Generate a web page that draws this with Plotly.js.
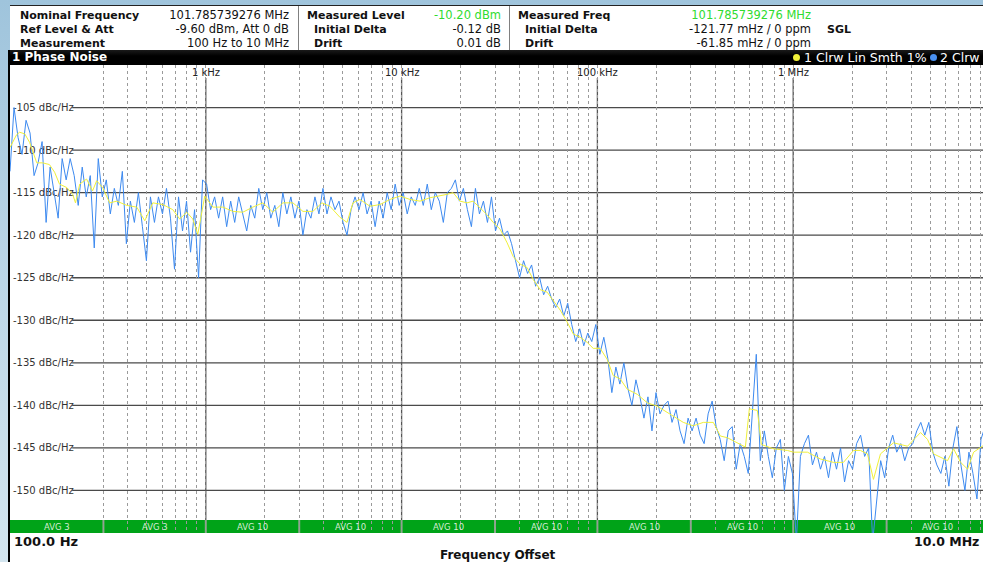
<!DOCTYPE html>
<html>
<head>
<meta charset="utf-8">
<script src="https://cdn.plot.ly/plotly-3.0.1.min.js"></script>
<style>
html,body{margin:0;padding:0;width:983px;height:562px;overflow:hidden;}
body{position:relative;background:linear-gradient(180deg,#9fc4dc 0%,#bcd6e6 50%,#d3e5ef 100%);font-family:'DejaVu Sans',sans-serif;}
.abs{position:absolute;}
#header{left:10px;top:5px;width:973px;height:45px;background:#fff;border-top:1px solid #222;}
.sep{top:6px;width:1px;height:44px;background:#808080;}
.t{position:absolute;white-space:nowrap;font-size:11.5px;line-height:13px;color:#111;}
.b{font-weight:bold;font-size:11px;}
.g{color:#2fdc2f;}
#titlebar{left:9px;top:50px;width:974px;height:15px;background:linear-gradient(180deg,#1a1a1a,#000 40%,#000);}
#leftline{left:8px;top:50px;width:2px;height:512px;background:#000;}
#bottom{left:10px;top:533px;width:973px;height:29px;background:#fff;}
#plot{left:0;top:0;width:1000px;height:562px;}
.w{color:#fff;}
.dot{position:absolute;width:7px;height:7px;border-radius:50%;top:54px;}
</style>
</head>
<body>
<div id="header" class="abs"></div>
<div class="abs sep" style="left:298px"></div>
<div class="abs sep" style="left:509px"></div>
<div id="titlebar" class="abs"></div>
<div id="bottom" class="abs"></div>
<div id="leftline" class="abs"></div>
<div id="plot" class="abs"></div>

<div class="t b" style="left:20px;top:9px">Nominal Frequency</div>
<div class="t b" style="left:20px;top:23px">Ref Level &amp; Att</div>
<div class="t b" style="left:20px;top:37px">Measurement</div>
<div class="t" style="right:694px;top:9px">101.785739276 MHz</div>
<div class="t" style="right:694px;top:23px">-9.60 dBm, Att 0 dB</div>
<div class="t" style="right:694px;top:37px">100 Hz to 10 MHz</div>

<div class="t b" style="left:307px;top:9px">Measured Level</div>
<div class="t b" style="left:314px;top:23px">Initial Delta</div>
<div class="t b" style="left:314px;top:37px">Drift</div>
<div class="t g" style="right:482px;top:9px">-10.20 dBm</div>
<div class="t" style="right:482px;top:23px">-0.12 dB</div>
<div class="t" style="right:482px;top:37px">0.01 dB</div>

<div class="t b" style="left:518px;top:9px">Measured Freq</div>
<div class="t b" style="left:525px;top:23px">Initial Delta</div>
<div class="t b" style="left:525px;top:37px">Drift</div>
<div class="t g" style="right:172px;top:9px">101.785739276 MHz</div>
<div class="t" style="right:172px;top:23px">-121.77 mHz / 0 ppm</div>
<div class="t" style="right:172px;top:37px">-61.85 mHz / 0 ppm</div>
<div class="t b" style="left:827px;top:23px">SGL</div>

<div class="t w" style="left:12px;top:51px;font-weight:bold;font-size:12px">1 Phase Noise</div>
<div class="dot" style="left:793px;background:#f2f23a"></div>
<div class="t w" style="left:804px;top:51px;font-size:12.5px">1 Clrw Lin Smth 1%</div>
<div class="dot" style="left:930px;background:#4a90f0"></div>
<div class="t w" style="left:940px;top:51px;font-size:12.5px">2 Clrw</div>

<div class="t" style="left:14px;top:534px;font-weight:bold;font-size:13px;line-height:16px">100.0 Hz</div>
<div class="t" style="left:440px;top:548px;font-weight:bold;font-size:12px;line-height:14px">Frequency Offset</div>
<div class="t" style="left:914px;top:534px;font-weight:bold;font-size:12.5px;line-height:16px">10.0 MHz</div>

<script>
// ---- data ----
const sweepStartHz = 100;
const sweepStopHz = 1e7;

// Trace 2 (blue, raw) phase noise in dBc/Hz, one value per log-spaced sweep point
const blueDb = [
-112.5,-105.0,-108.5,-110.5,-106.5,-108.0,-113.0,-111.5,-109.0,-118.5,
-112.0,-115.0,-118.0,-111.0,-113.5,-111.0,-113.0,-116.5,-112.0,-115.5,
-113.0,-121.5,-111.0,-115.5,-113.5,-117.5,-114.5,-116.5,-112.5,-121.0,
-116.0,-118.5,-115.0,-119.0,-123.0,-115.5,-118.5,-115.5,-117.5,-114.5,
-118.0,-124.0,-115.5,-119.5,-116.0,-122.0,-117.0,-125.0,-113.5,-114.0,
-117.0,-115.5,-118.0,-115.5,-119.0,-116.0,-118.5,-115.5,-117.5,-119.5,
-116.5,-118.0,-114.5,-117.0,-115.0,-118.0,-116.5,-119.0,-115.0,-117.5,
-115.5,-118.0,-116.0,-120.0,-117.0,-118.0,-115.5,-117.5,-114.5,-117.5,
-115.5,-117.0,-116.0,-118.5,-120.0,-117.0,-115.5,-117.0,-115.0,-117.5,
-116.0,-119.0,-116.0,-118.0,-115.0,-117.0,-114.0,-116.5,-115.0,-117.5,
-115.5,-116.5,-114.5,-116.5,-114.0,-117.0,-115.0,-116.0,-118.5,-115.0,
-114.5,-113.5,-116.0,-114.5,-117.0,-119.0,-114.5,-117.5,-116.0,-118.5,
-115.5,-119.5,-118.0,-120.0,-119.5,-121.0,-123.0,-125.0,-123.0,-124.5,
-123.5,-126.0,-125.0,-127.0,-126.0,-127.5,-128.5,-127.5,-129.5,-128.0,
-130.5,-132.5,-131.0,-133.0,-131.5,-132.5,-130.5,-134.0,-132.0,-134.5,
-138.5,-135.5,-137.5,-135.0,-138.0,-140.0,-137.0,-139.0,-141.5,-139.0,
-143.0,-138.5,-141.0,-140.0,-139.5,-142.0,-140.5,-143.0,-144.5,-141.5,
-143.0,-141.5,-143.5,-144.5,-141.0,-139.5,-142.5,-144.0,-146.5,-143.0,
-142.5,-147.5,-144.5,-146.0,-148.0,-141.0,-134.0,-146.5,-143.0,-146.0,
-148.5,-145.0,-144.0,-150.0,-146.0,-148.0,-156.0,-146.0,-144.5,-143.5,
-147.0,-145.5,-147.5,-146.0,-148.5,-145.5,-147.5,-145.0,-149.0,-146.5,
-147.5,-144.5,-143.5,-146.0,-145.0,-156.0,-151.0,-146.5,-148.5,-145.0,
-143.5,-145.5,-144.5,-146.5,-145.0,-144.5,-143.0,-142.0,-143.5,-142.0,
-145.5,-147.0,-148.0,-146.0,-149.5,-145.0,-142.5,-147.0,-150.0,-145.5,
-148.0,-151.0,-144.0,-142.5,-145.5
];

// Trace 1 (yellow, smoothed 1%)
const yellowHz = [100,108,112,119,126,137,147,159,169,179,195,209,216,227,246,264,277,297,323,351,
395,444,488,536,603,678,736,799,858,910,988,1086,1222,1374,1546,1739,1956,2200,2476,2785,
3133,3524,3917,4304,4842,5260,5643,6128,6893,7755,8724,9813,11040,12420,13970,15720,17070,18320,19890,21600,
23170,25170,27330,29340,31860,34590,37120,40310,43770,46970,51010,55390,59430,64530,70070,75200,81670,88690,95170,103300,
112200,120400,130800,142000,159800,179800,202200,227500,244100,274600,308900,347500,390900,424500,460900,518500,569700,597000,656100,687800,
792000,933900,1002000,1182000,1377000,1605000,1806000,2032000,2206000,2395000,2570000,2791000,3253000,3835000,4117000,4470000,4855000,5211000,6142000,6592000,
7159000,7775000,8344000,9385000,10000000];
const yellowDb = [-109.7,-108.2,-107.9,-108.1,-109.1,-111.5,-111.5,-111.7,-112.6,-114.0,-114.4,-115.2,-116.2,-114.0,-113.4,-114.8,-113.6,-114.4,-116.2,-116.0,
-116.5,-116.7,-118.3,-116.2,-116.4,-117.0,-118.1,-117.3,-118.1,-119.9,-115.4,-116.7,-116.7,-117.2,-117.3,-116.7,-116.2,-117.3,-116.2,-116.2,
-117.2,-117.2,-116.2,-116.6,-117.9,-118.5,-116.2,-115.8,-116.6,-116.4,-115.8,-115.4,-115.8,-116.0,-115.6,-115.4,-115.2,-115.0,-116.0,-116.2,
-116.0,-116.8,-117.6,-118.5,-119.3,-120.9,-122.5,-123.4,-123.8,-125.2,-126.4,-126.7,-127.7,-128.8,-130.2,-131.6,-132.0,-132.6,-133.3,-133.3,
-134.6,-136.5,-136.9,-138.1,-138.7,-139.7,-140.1,-140.8,-141.2,-142.0,-142.4,-142.0,-142.0,-143.6,-143.8,-144.4,-144.9,-140.4,-140.6,-144.6,
-145.1,-145.3,-145.5,-145.5,-146.3,-146.7,-146.7,-145.3,-145.3,-145.7,-148.7,-145.7,-144.4,-144.8,-144.0,-143.2,-144.0,-145.7,-146.5,-145.1,
-146.7,-147.5,-145.5,-144.7,-145.0];

// axis labels / ticks
const yTickVals = [-105,-110,-115,-120,-125,-130,-135,-140,-145,-150];
const yTickText = yTickVals.map(v => v + ' dBc/Hz');
const decadeHz = [1e3, 1e4, 1e5, 1e6];
const decadeLabels = ['1 kHz', '10 kHz', '100 kHz', '1 MHz'];
const avgEdgesHz = [100, 300, 1e3, 3e3, 1e4, 3e4, 1e5, 3e5, 1e6, 3e6, 1e7];
const avgLabels = ['AVG 3','AVG 3','AVG 10','AVG 10','AVG 10','AVG 10','AVG 10','AVG 10','AVG 10','AVG 10'];

// ---- build ----
const nPts = blueDb.length;
const blueHz = blueDb.map((_, i) => sweepStartHz * Math.pow(sweepStopHz / sweepStartHz, i / (nPts - 1)));

const gridHz = [];
[100, 1e3, 1e4, 1e5, 1e6].forEach(d => { for (let m = 1; m <= 9; m++) { if (d * m > 100) gridHz.push(d * m); } });

const barTop = 13 / 468;
const shapes = [];
yTickVals.forEach(v => shapes.push({type:'line', xref:'paper', x0:0.0635, x1:1, yref:'y', y0:v, y1:v,
  line:{color:'#4a4a4a', width:1.3}, layer:'below'}));
decadeHz.forEach(f => shapes.push({type:'line', xref:'x', x0:f, x1:f, yref:'paper', y0:0, y1:0.972,
  line:{color:'#555555', width:1.3}, layer:'below'}));
shapes.push({type:'rect', xref:'paper', x0:0, x1:1, yref:'paper', y0:0, y1:barTop,
  fillcolor:'#00a318', line:{width:0}, layer:'below'});
avgEdgesHz.slice(1, -1).forEach(f => shapes.push({type:'line', xref:'x', x0:f, x1:f, yref:'paper', y0:0, y1:barTop,
  line:{color:'#8aa88a', width:2}, layer:'below'}));

const annotations = [];
decadeHz.forEach((f, i) => annotations.push({xref:'x', x:Math.log10(f), yref:'paper', y:0.985, text:decadeLabels[i],
  showarrow:false, xanchor:'center', yanchor:'middle', font:{family:'DejaVu Sans', size:10, color:'#222'}}));
avgLabels.forEach((t, i) => annotations.push({xref:'x', x:(Math.log10(avgEdgesHz[i]) + Math.log10(avgEdgesHz[i+1])) / 2,
  yref:'paper', y:barTop / 2, text:t, showarrow:false, xanchor:'center', yanchor:'middle',
  font:{family:'DejaVu Sans', size:8.5, color:'#d4ecd4'}}));

const traces = [
  {x: blueHz, y: blueDb, type:'scatter', mode:'lines', line:{color:'#3d8af0', width:1}, hoverinfo:'skip'},
  {x: yellowHz, y: yellowDb, type:'scatter', mode:'lines', line:{color:'#f0f03a', width:1}, hoverinfo:'skip'}
];

const layout = {
  width: 1000, height: 562,
  margin: {l:10, r:11, t:65, b:29, pad:0},
  paper_bgcolor: 'rgba(0,0,0,0)', plot_bgcolor: '#ffffff',
  showlegend: false,
  xaxis: {type:'log', range:[Math.log10(sweepStartHz), Math.log10(sweepStopHz)], tickvals:gridHz, showticklabels:false,
    ticks:'', showgrid:true, gridcolor:'#9a9a9a', gridwidth:1, griddash:'dot', zeroline:false, showline:false, fixedrange:true},
  yaxis: {range:[-155, -100], tickvals:yTickVals, ticktext:yTickText, ticklabelposition:'inside', ticks:'',
    showgrid:false, zeroline:false, showline:false, layer:'below traces', fixedrange:true,
    tickfont:{family:'DejaVu Sans', size:10, color:'#333'}},
  shapes: shapes,
  annotations: annotations
};

Plotly.newPlot('plot', traces, layout, {staticPlot:true, displayModeBar:false});
</script>
</body>
</html>
